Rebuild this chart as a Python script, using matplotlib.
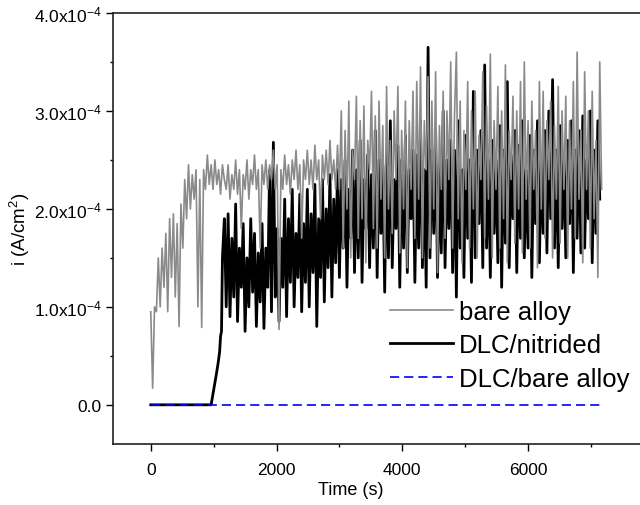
import numpy as np
import matplotlib
matplotlib.use('Agg')
import matplotlib.pyplot as plt
from matplotlib.ticker import FixedLocator, MultipleLocator, FuncFormatter

plt.rcParams['font.family'] = ['Liberation Sans', 'DejaVu Sans']
plt.rcParams['mathtext.fontset'] = 'custom'
plt.rcParams['mathtext.rm'] = 'Liberation Sans'
plt.rcParams['mathtext.it'] = 'Liberation Sans:italic'
plt.rcParams['mathtext.bf'] = 'Liberation Sans:bold'

# values in units of 1e-4 A/cm2, sampled every 30 s
bare_step = 30
bare_alloy = [
    0.95, 0.17, 1.0, 0.95, 1.5, 1.0, 1.6, 1.2, 1.75, 0.95, 1.9, 1.3, 1.95, 1.1, 1.85, 0.8,
    2.05, 1.6, 2.3, 1.9, 2.45, 2.0, 2.35, 2.1, 2.4,
    1.0, 2.3, 0.79, 2.4, 2.2, 2.55, 2.25, 2.45, 2.2, 2.5, 2.25, 2.4, 2.15, 2.45, 2.3,
    2.2, 2.45, 2.1, 2.35, 2.2, 2.5, 2.15, 2.4, 1.8, 2.35, 2.2, 2.5, 2.1, 2.4, 2.25, 2.55,
    2.2, 2.4, 1.6, 2.45, 2.25, 2.5, 2.2, 2.45, 2.3, 2.6, 2.2, 2.45, 0.77, 2.4, 2.2, 2.55,
    2.25, 2.45, 2.15, 2.5, 2.3, 2.6, 2.2, 2.45, 1.7, 2.5, 2.3, 2.6, 2.25, 2.5, 2.2, 2.65,
    2.3, 2.5, 1.9, 2.55, 2.3, 2.6, 2.25, 2.7, 2.3, 2.5, 2.2, 2.65,
    2.2, 3.0, 1.6, 2.8, 2.0, 3.1, 1.5, 2.6, 2.3, 3.15, 1.7, 2.9, 1.9, 3.05, 1.45, 2.7,
    2.4, 3.2, 1.8, 2.95,
    1.6, 3.1, 2.1, 2.85, 1.5, 3.25, 2.0, 2.7, 1.75, 3.0, 2.3, 3.25, 1.55, 2.8, 2.0, 3.1,
    1.4, 2.9, 2.2, 3.2,
    1.7, 3.3, 2.1, 3.45, 1.5, 2.9, 2.4, 3.35, 1.6, 3.1, 2.0, 3.4, 1.35, 2.85, 2.2, 3.2,
    1.7, 3.0, 2.3, 3.5,
    1.6, 2.95, 3.6, 1.9, 3.1, 1.45, 2.8, 2.2, 3.3, 1.6, 3.0, 2.0, 3.2, 1.5, 2.75, 2.3,
    3.4, 1.7, 3.05, 2.1,
    3.58, 1.5, 2.9, 2.2, 3.25, 1.6, 3.0, 1.9, 3.47, 1.45, 2.8, 2.3, 3.15, 1.65, 3.0, 2.0,
    3.3, 1.55, 3.5, 2.1,
    2.9, 1.6, 3.1, 2.2, 2.8, 1.4, 3.3, 2.0, 3.2, 1.7, 2.9, 2.3, 3.1, 1.5, 2.85, 2.1,
    3.25, 1.65, 3.0, 2.2,
    3.15, 1.5, 2.9, 2.0, 3.3, 1.7, 3.6, 2.1, 2.8, 1.45, 3.4, 2.2, 3.0, 1.6, 3.2, 1.9,
    2.7, 1.3, 3.5, 2.2,
]

# DLC/nitrided: passive until ~960 s, then breakdown
nitrided_ramp_t = [0, 960, 1000, 1040, 1070, 1095, 1110, 1125]
nitrided_ramp = [0.0, 0.0, 0.15, 0.3, 0.42, 0.54, 0.7, 0.75]
nitrided_start = 1140
nitrided_step = 30
nitrided = [
    1.5, 1.9, 1.0, 1.95, 0.9, 1.7, 1.1, 2.05, 0.85, 1.6, 1.2, 1.85, 0.75, 1.5, 1.0, 1.9,
    1.15, 1.75, 0.8, 1.55, 1.05, 1.85, 0.78, 1.6, 1.2, 2.4, 0.95, 2.68, 1.1, 1.8, 0.85, 1.7,
    1.2, 2.1, 0.9, 1.9, 1.25, 2.2, 1.0, 1.75, 1.3, 2.15, 0.95, 1.85, 1.25, 2.2, 1.0, 1.95,
    1.35, 2.25, 0.8, 1.9, 1.3, 2.3, 1.05, 2.0, 1.4, 2.35, 1.1, 2.1, 1.45, 2.4,
    1.3, 2.3, 1.6, 2.5, 1.2, 2.2, 1.7, 2.6, 1.35, 2.4, 1.5, 2.7, 1.25, 2.3, 1.8, 2.55,
    1.4, 2.35, 1.6, 2.8,
    1.3, 2.5, 1.75, 2.45, 1.15, 2.6, 1.5, 2.9, 1.4, 2.3, 1.8, 2.65, 1.2, 2.5, 1.6, 2.75,
    1.35, 2.4, 1.9, 2.6,
    1.25, 2.55, 1.6, 2.9, 1.4, 2.4, 1.2, 3.65, 1.5, 2.6, 1.75, 2.8, 1.3, 2.45, 1.55, 3.0,
    1.4, 2.5, 1.8, 2.7,
    1.35, 2.6, 1.1, 2.9, 1.6, 2.4, 1.3, 2.75, 1.7, 2.5, 1.25, 3.2, 1.5, 2.6, 1.85, 2.8,
    1.4, 3.47, 1.6, 2.5,
    1.3, 2.7, 1.75, 2.5, 1.45, 2.85, 1.2, 2.6, 1.65, 3.3, 1.4, 2.55, 1.9, 2.8, 1.35, 2.65,
    1.7, 2.9, 1.5, 2.4,
    1.6, 2.75, 1.3, 2.6, 1.85, 2.9, 1.45, 2.5, 1.75, 2.8, 1.55, 3.0, 1.9, 3.32, 1.6, 2.6,
    1.4, 2.85, 1.8, 2.55,
    1.5, 2.7, 1.85, 2.9, 1.35, 2.6, 1.7, 2.8, 1.55, 2.95, 1.6, 2.5, 1.9, 3.0, 1.45, 2.6,
    1.75, 2.9, 2.1,
]

dlc_bare_t = [0, 7150]
dlc_bare = [0.0, 0.0]


def main() -> None:
    t_bare = bare_step * np.arange(len(bare_alloy))
    t_nit = np.concatenate([
        nitrided_ramp_t,
        nitrided_start + nitrided_step * np.arange(len(nitrided))
    ])
    y_nit = np.concatenate([nitrided_ramp, nitrided])

    fig = plt.figure(figsize=(6.4, 5.06), dpi=100)
    ax = fig.add_axes([0.1766, 0.1206, 0.8234, 0.8517])

    l_nit, = ax.plot(t_nit, y_nit * 1e-4, color='black', lw=2.0,
                     label='DLC/nitrided', zorder=2)
    l_bare, = ax.plot(t_bare, np.array(bare_alloy) * 1e-4, color='#8a8a8a',
                      lw=1.2, label='bare alloy', zorder=3)
    l_dlc, = ax.plot(dlc_bare_t, np.array(dlc_bare) * 1e-4, color='#0000ff',
                     lw=1.2, linestyle=(0, (5.5, 3)), label='DLC/bare alloy',
                     zorder=4)

    ax.set_xlim(-600, 7780)
    ax.set_ylim(-0.4e-4, 4.0e-4)

    ax.xaxis.set_major_locator(FixedLocator([0, 2000, 4000, 6000]))
    ax.xaxis.set_minor_locator(MultipleLocator(1000))
    ax.yaxis.set_major_locator(FixedLocator([0, 1e-4, 2e-4, 3e-4, 4e-4]))
    ax.yaxis.set_minor_locator(FixedLocator([0.5e-4, 1.5e-4, 2.5e-4, 3.5e-4]))

    def yfmt(v, pos):
        if abs(v) < 1e-12:
            return '0.0'
        return f'{v * 1e4:.1f}x10$^{{-4}}$'

    ax.yaxis.set_major_formatter(FuncFormatter(yfmt))

    ax.tick_params(which='major', direction='out', length=5, width=1.0,
                   labelsize=12.5, pad=3)
    ax.tick_params(which='minor', direction='out', length=2.5, width=1.0)
    ax.tick_params(axis='x', which='major', pad=8)

    for side in ['left', 'bottom', 'top']:
        ax.spines[side].set_linewidth(1.2)
        ax.spines[side].set_color('#222222')
    ax.spines['right'].set_visible(False)

    ax.set_xlabel('Time (s)', fontsize=13, va='top')
    ax.xaxis.set_label_coords(0.452, -0.086)
    ax.set_ylabel('i (A/cm$^2$)', fontsize=13.5)
    ax.yaxis.set_label_coords(-0.154, 0.5)

    ax.legend(handles=[l_bare, l_nit, l_dlc], loc='lower right',
              bbox_to_anchor=(1.0, 0.1), frameon=False,
              fontsize=18.5, handlelength=2.45, handletextpad=0.23,
              labelspacing=0.37, borderaxespad=0)

    fig.savefig('out.png', dpi=100)


if __name__ == '__main__':
    main()
